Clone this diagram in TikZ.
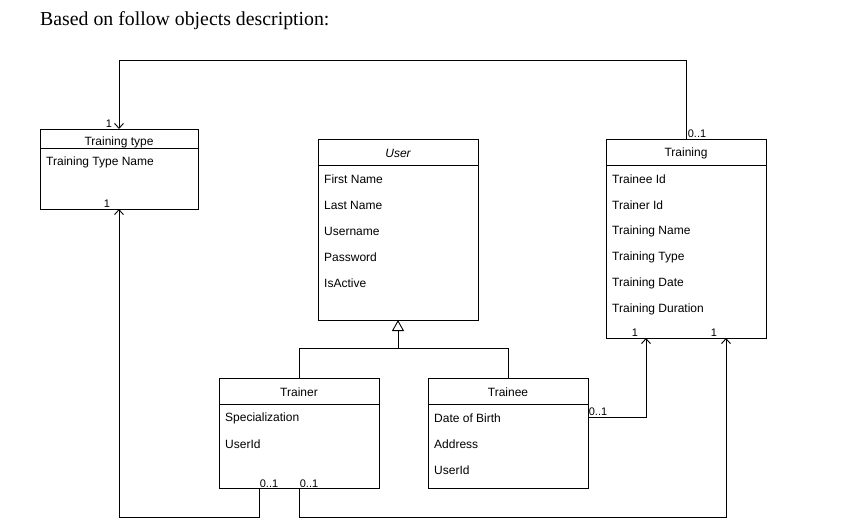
\documentclass[tikz,border=0pt]{standalone}
\usepackage{fontspec}
\setmainfont{Liberation Sans}
\newfontfamily\serifhead{Liberation Serif}
\usetikzlibrary{arrows.meta,calc,positioning}

\tikzstyle{cls}=[draw=black,line width=0.9pt,rectangle,inner sep=0pt,outer sep=0pt,minimum width=160pt]
\tikzstyle{sep}=[line width=0.9pt]
\tikzstyle{attr}=[anchor=west,inner sep=0pt,font=\fontsize{12}{14}\selectfont]
\tikzstyle{ttl}=[inner sep=0pt,font=\fontsize{12}{14}\selectfont]
\tikzstyle{mult}=[inner sep=0pt,font=\fontsize{11}{12}\selectfont]
\tikzstyle{assoc}=[-{Straight Barb[length=5pt,width=9pt]},line width=0.9pt]
\tikzstyle{inherit}=[-{Triangle[open,length=11pt,width=12pt]},line width=0.9pt]

\begin{document}
\begin{tikzpicture}[x=1pt,y=-1pt]
\useasboundingbox (0,0) rectangle (842,531);
\node[anchor=base west,inner sep=0pt,font=\serifhead\fontsize{19.8}{22}\selectfont] (heading) at (40,25) {Based on follow objects description:};

% classes
\node[cls,minimum width=158pt,minimum height=80pt] (ttype) at (119,169) {};
\node[cls,minimum height=181pt] (user) at (398,229.5) {};
\node[cls,minimum height=199pt] (training) at (686,238.5) {};
\node[cls,minimum height=110pt] (trainer) at (299,433) {};
\node[cls,minimum height=110pt] (trainee) at (508,433) {};

% header lines
\draw[sep] ([yshift=-19pt]ttype.north west) -- ([yshift=-19pt]ttype.north east);
\foreach \c in {user,training,trainer,trainee}
  \draw[sep] ([yshift=-26pt]\c.north west) -- ([yshift=-26pt]\c.north east);

% titles
\node[ttl] (ttype-t) at (119,142) {Training type};
\node[ttl,font=\fontsize{12}{14}\selectfont\itshape] (user-t) at (398,153) {User};
\node[ttl] (training-t) at (686,153) {Training};
\node[ttl] (trainer-t) at (299,392) {Trainer};
\node[ttl] (trainee-t) at (508,392) {Trainee};

% attributes
\node[attr] (ttype-1) at (46,162) {Training Type Name};
\foreach \a [count=\i] in {First Name,Last Name,Username,Password,IsActive}
  \node[attr] (user-\i) at (324,153+26*\i) {\a};
\foreach \a [count=\i] in {Trainee Id,Trainer Id,Training Name,Training Type,Training Date,Training Duration}
  \node[attr] (training-\i) at (612,153+26*\i) {\a};
\foreach \a [count=\i] in {Specialization,UserId}
  \node[attr] (trainer-\i) at (225,392+26*\i) {\a};
\foreach \a [count=\i] in {Date of Birth,Address,UserId}
  \node[attr] (trainee-\i) at (434,392+26*\i) {\a};

% bends and ports
\coordinate (topbend) at (400,60);
\coordinate (lowbend) at (400,517);
\coordinate (inhbend) at (398,348);
\coordinate (trainer-a) at ([xshift=-40pt]trainer.south);
\coordinate (training-a) at ([xshift=-40pt]training.south);
\coordinate (training-b) at ([xshift=40pt]training.south);
\coordinate (trainee-p) at ([yshift=-39pt]trainee.north east);

% associations
\draw[assoc] (training.north) |- (ttype.north |- topbend) -- (ttype.north);
\draw[assoc] (trainer-a) |- (ttype.south |- lowbend) -- (ttype.south);
\draw[assoc] (trainer.south) |- (training-b |- lowbend) -- (training-b);
\draw[assoc] (trainee-p) -| (training-a);

% generalization
\draw[sep] (trainer.north) |- (trainee.north |- inhbend) -- (trainee.north);
\draw[inherit] (inhbend -| user.south) -- (user.south);

% multiplicities
\node[mult] (m-tt-top) at (109,124) {1};
\node[mult] (m-tt-bot) at (107,204) {1};
\node[mult] (m-tr-top) at (697,134) {0..1};
\node[mult] (m-tr-a) at (635,333) {1};
\node[mult] (m-tr-b) at (714,333) {1};
\node[mult] (m-trn-a) at (269,484) {0..1};
\node[mult] (m-trn-b) at (309,484) {0..1};
\node[mult] (m-tre) at (598,412) {0..1};
\end{tikzpicture}
\end{document}
